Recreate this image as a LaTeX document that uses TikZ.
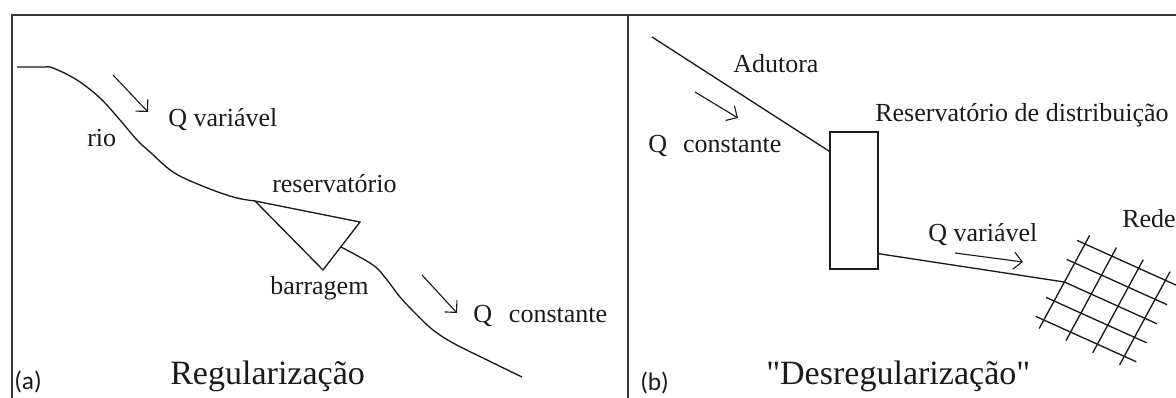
\documentclass[tikz,border=0pt]{standalone}
\usepackage{fontspec}
\setmainfont{Liberation Serif}
\newfontfamily\titlefont{Liberation Serif}
\newfontfamily\tagfont{Carlito}
\usetikzlibrary{arrows.meta, positioning}
\definecolor{FrameGrey}{HTML}{3A3A3A}
\definecolor{InkBlack}{HTML}{1A1A1A}
\tikzset{
    % Label text
    txt/.style={
        anchor=base west,
        inner sep=0pt,
        text=InkBlack,
        font=\fontsize{18.5}{22}\selectfont
    },
    % Panel title
    titletxt/.style={
        anchor=base west,
        inner sep=0pt,
        text=InkBlack,
        font=\titlefont\fontsize{24.2}{28}\selectfont
    },
    % Panel letter
    panelid/.style={
        anchor=base west,
        inner sep=0pt,
        text=InkBlack,
        font=\tagfont\fontsize{18}{21}\selectfont
    },
    % Outer frame
    frame/.style={
        draw=FrameGrey,
        line width=1.4pt
    },
    % River, pipes and net
    pipe/.style={
        draw=InkBlack,
        line width=0.95pt
    },
    % Reservoir box
    tank/.style={
        rectangle,
        draw=InkBlack,
        line width=1pt,
        minimum width=1.2cm,
        minimum height=3.425cm,
        inner sep=0pt
    },
    % Flow arrow
    flow/.style={
        -{Straight Barb[angle=90:8.5pt]},
        draw=InkBlack,
        line width=0.8pt
    }
}
\begin{document}
\begin{tikzpicture}[x=0.025cm, y=-0.025cm]
    \useasboundingbox (0,0) rectangle (1176,398);
    % Frame
    \draw [frame] (12,15) rectangle (1190,410);
    \draw [frame] (628,15) -- (628,410);

    % (a) Regularizacao
    \coordinate (damA) at (255,201);
    \coordinate (damB) at (360,222);
    \coordinate (damC) at (323,270);
    \draw [pipe] plot [smooth, tension=0.6] coordinates {(17,67) (43,67) (53,68) (77,80) (100,98) (120,120) (137,140) (150,152) (173,172) (200,185) (233,197) (damA)};
    \draw [pipe] (damA) -- (damB) -- (damC) -- cycle;
    \draw [pipe] plot [smooth, tension=0.6] coordinates {(341,247) (373,265) (387,280) (400,297) (417,315) (433,330) (453,343) (483,358) (522,377)};
    \draw [flow] (113,75) -- (148,112);
    \draw [flow] (422,275) -- (457,313);

    \node (rio) [txt] at (87,147) {rio};
    \node (qvarA) [txt] at (168,127) {Q variável};
    \node (resA) [txt] at (272,193) {reservatório};
    \node (barr) [txt] at (270,295) {barragem};
    \node (qconA) [txt] at (473,323) {Q\hspace{0.65em}constante};
    \node (titleA) [titletxt] at (170,385) {Regularização};
    \node (tagA) [panelid] at (14,390) {(a)};

    % (b) Desregularizacao
    \node (res) [tank] at (854,200.5) {};
    \coordinate (adStart) at (652,37);
    \draw [pipe] (adStart) -- ([yshift=-0.5cm]res.north west);
    \draw [flow] (695,92) -- (738,118);
    \draw [flow] (955,253) -- (1023,262);

    % Distribution net
    \begin{scope}[shift={(1085,244)}, x={(0.67cm,-0.3025cm)}, y={(-0.2575cm,-0.475cm)}]
        \foreach \j in {0,1,3,4}
            \draw [pipe] (-0.3,\j) -- (3.45,\j);
        \draw [pipe] (0,2) -- (3.45,2);
        \foreach \i in {0,...,3}
            \draw [pipe] (\i,-0.45) -- (\i,4.45);
        \coordinate (tap) at (0,2);
    \end{scope}
    \draw [pipe] ([yshift=0.4cm]res.south east) -- (tap);

    \node (adutora) [txt] at (733,73) {Adutora};
    \node (qconB) [txt] at (648,153) {Q\hspace{0.62em}constante};
    \node (resB) [txt] at (875,122) {Reservatório de distribuição};
    \node (qvarB) [txt] at (928,242) {Q variável};
    \node (rede) [txt] at (1122,228) {Rede};
    \node (titleB) [titletxt] at (766,385) {"Desregularização"};
    \node (tagB) [panelid] at (640,391) {(b)};
\end{tikzpicture}
\end{document}
